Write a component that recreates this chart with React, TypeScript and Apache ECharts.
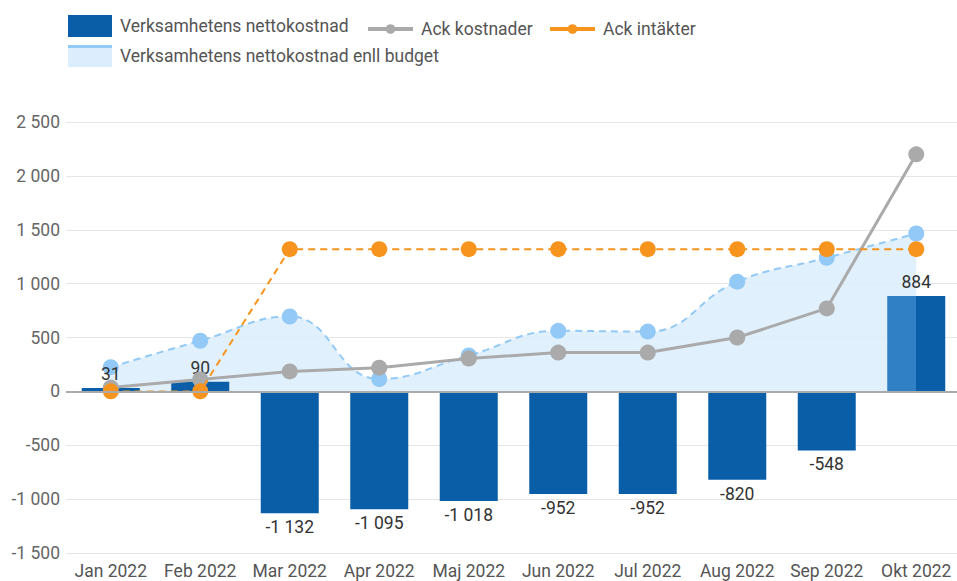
import React, { useEffect, useRef } from "react";
import * as echarts from "echarts";

const categories = ["Jan 2022", "Feb 2022", "Mar 2022", "Apr 2022", "Maj 2022", "Jun 2022", "Jul 2022", "Aug 2022", "Sep 2022", "Okt 2022"];
const nettokostnad = [31, 90, -1132, -1095, -1018, -952, -952, -820, -548, 884];
const ackKostnader = [35, 110, 185, 220, 305, 360, 360, 500, 770, 2200];
const ackIntakter = [0, 0, 1320, 1320, 1320, 1320, 1320, 1320, 1320, 1320];
const budget = [225, 470, 695, 115, 333, 562, 555, 1018, 1240, 1465];

const fmt = (n: number) =>
  (n < 0 ? "-" : "") + Math.abs(n).toString().replace(/\B(?=(\d{3})+(?!\d))/g, " ");

const FONT = "Roboto, 'Noto Sans', sans-serif";
const FS = 17.5;

export default function App() {
  const ref = useRef<HTMLDivElement>(null);
  useEffect(() => {
    if (!ref.current) return;
    const chart = echarts.init(ref.current, null, { renderer: "svg" });
    const textStyle = { fontFamily: FONT, fontSize: FS, color: "#555", padding: [0, 0, 0, 3] };
    const barData = nettokostnad.map((v, i) =>
      i === nettokostnad.length - 1
        ? {
            value: v,
            itemStyle: {
              color: new echarts.graphic.LinearGradient(0, 0, 1, 0, [
                { offset: 0, color: "#2f80c4" },
                { offset: 0.5, color: "#2f80c4" },
                { offset: 0.5, color: "#0a5ea8" },
                { offset: 1, color: "#0a5ea8" },
              ]),
            },
          }
        : v
    );
    chart.setOption({
      animation: false,
      textStyle: { fontFamily: FONT },
      legend: [
        {
          left: 68, top: 15, padding: 0, itemWidth: 44, itemHeight: 22, textStyle,
          data: [{ name: "Verksamhetens nettokostnad", icon: "rect", itemStyle: { color: "#0a5ea8" } }],
          selectedMode: false,
        },
        {
          left: 366, top: 20, padding: 0, itemWidth: 45, itemHeight: 12, textStyle,
          data: ["Ack kostnader"], selectedMode: false,
          lineStyle: { width: 4 },
        },
        {
          left: 548, top: 20, padding: 0, itemWidth: 45, itemHeight: 12, textStyle,
          data: ["Ack intäkter"], selectedMode: false,
          lineStyle: { width: 4, type: "solid" },
        },
        {
          left: 68, top: 45, padding: 0, itemWidth: 44, itemHeight: 22, textStyle,
          data: [{ name: "Verksamhetens nettokostnad enll budget", icon: "rect", itemStyle: { color: "#dcedfd" } }],
          selectedMode: false,
        },
      ],
      graphic: [
        { type: "rect", shape: { x: 68, y: 45, width: 44, height: 3 }, style: { fill: "#92c9f6" }, z: 100 },
      ],
      grid: { left: 66, right: 1, top: 122, bottom: 28 },
      xAxis: {
        type: "category",
        data: categories,
        axisLine: { show: false, onZero: false },
        axisTick: { show: false },
        axisLabel: { color: "#555", fontSize: FS, fontFamily: FONT, margin: 9, interval: 0 },
      },
      yAxis: {
        type: "value",
        min: -1500,
        max: 2500,
        interval: 500,
        axisLabel: { color: "#666", fontSize: FS, fontFamily: FONT, margin: 6, formatter: (v: number) => fmt(v) },
        splitLine: { lineStyle: { color: "#e6e6e6", width: 1 } },
      },
      series: [
        {
          name: "Verksamhetens nettokostnad enll budget",
          type: "line",
          data: budget,
          smooth: 0.45,
          z: 1,
          symbol: "circle",
          symbolSize: 16,
          itemStyle: { color: "#92c9f6" },
          lineStyle: { color: "#92c9f6", width: 2, type: [7, 5] },
          areaStyle: { color: "#dcedfd", opacity: 0.85, origin: 0 },
        },
        {
          name: "Verksamhetens nettokostnad",
          type: "bar",
          data: barData,
          barWidth: 58,
          z: 2,
          itemStyle: { color: "#0a5ea8" },
          label: {
            show: true,
            position: "outside",
            color: "#333",
            fontSize: FS,
            fontFamily: FONT,
            distance: 5,
            formatter: (p: any) => fmt(p.value),
          },
          markLine: {
            silent: true,
            symbol: "none",
            label: { show: false },
            lineStyle: { color: "#aaaaaa", width: 2, type: "solid" },
            data: [{ yAxis: 0 }],
          },
        },
        {
          name: "Ack kostnader",
          type: "line",
          data: ackKostnader,
          z: 3,
          symbol: "circle",
          symbolSize: 16,
          itemStyle: { color: "#aaaaaa" },
          lineStyle: { color: "#aaaaaa", width: 3 },
        },
        {
          name: "Ack intäkter",
          type: "line",
          data: ackIntakter,
          z: 4,
          symbol: "circle",
          symbolSize: 16,
          itemStyle: { color: "#f7941d" },
          lineStyle: { color: "#f7941d", width: 2, type: [7, 5] },
        },
      ],
    });
    return () => chart.dispose();
  }, []);
  return (
    <div style={{ position: "absolute", left: 0, top: 0, width: 957, height: 581, overflow: "hidden" }}>
      <div ref={ref} style={{ width: 962, height: 581 }} />
    </div>
  );
}
